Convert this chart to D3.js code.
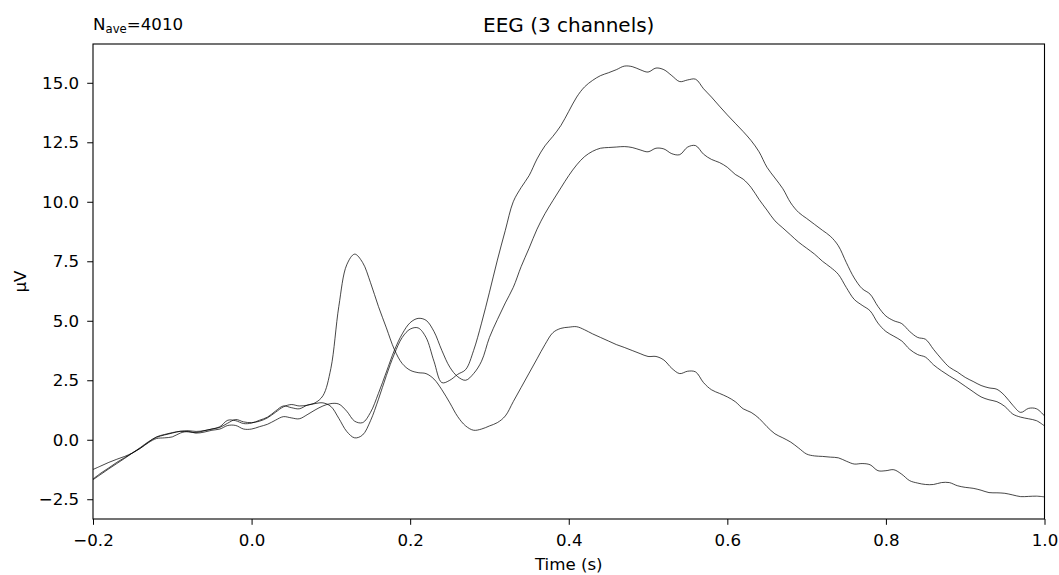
<!DOCTYPE html>
<html>
<head>
<meta charset="utf-8">
<script src="https://cdn.jsdelivr.net/npm/d3@7"></script>
<style>
  body { margin: 0; background: #fff; }
  svg text { font-family: "DejaVu Sans", sans-serif; fill: #000; }
</style>
</head>
<body>
<div id="chart"></div>
<script>
// sample times (s), one every 10 ms
const times = d3.range(121).map(i => Math.round((-0.2 + i * 0.01) * 100) / 100)

// channel values in µV
const chanA = [
  -1.68, -1.45, -1.22, -1.0, -0.78, -0.55, -0.32, -0.08, 0.1, 0.2, 0.28, 0.36, 0.38, 0.35, 0.38, 0.45,
  0.52, 0.7, 0.85, 0.75, 0.72, 0.78, 0.92, 1.15, 1.38, 1.48, 1.42, 1.45, 1.52, 1.55, 1.4,
  0.9, 0.35, 0.08, 0.2, 0.8, 1.7, 2.7, 3.6, 4.3, 4.65,
  4.7, 4.3, 3.3, 2.4, 2.5, 2.75, 2.95, 3.75, 4.9, 6.2,
  7.55, 8.8, 10.0, 10.6, 11.1, 11.8, 12.35, 12.75, 13.2, 13.8,
  14.4, 14.83, 15.1, 15.3, 15.42, 15.55, 15.7, 15.68, 15.55, 15.45,
  15.62, 15.55, 15.3, 15.05, 15.12, 15.15, 14.75, 14.4, 14.02, 13.65,
  13.3, 12.95, 12.57, 12.1, 11.45, 11.0, 10.55, 9.95, 9.55, 9.3,
  9.05, 8.8, 8.55, 8.15, 7.45, 6.8, 6.35, 6.12, 5.6, 5.2,
  5.0, 4.88, 4.55, 4.3, 4.22, 3.8, 3.4, 3.05, 2.85, 2.62,
  2.45, 2.28, 2.18, 2.12, 1.85, 1.45, 1.15, 1.32, 1.3, 1.0
]
const chanB = [
  -1.65, -1.4, -1.18, -0.95, -0.75, -0.55, -0.35, -0.12, 0.05, 0.08, 0.12, 0.28, 0.35, 0.28, 0.32, 0.4,
  0.45, 0.6, 0.6, 0.45, 0.45, 0.55, 0.65, 0.82, 0.97, 0.92, 0.88, 1.05, 1.25, 1.42, 1.52,
  1.5, 1.2, 0.78, 0.72, 1.15, 1.95, 2.85, 3.75, 4.45, 4.92,
  5.1, 5.02, 4.55, 3.75, 3.05, 2.65, 2.5, 2.78, 3.3, 4.3,
  5.05, 5.75, 6.4, 7.28, 8.05, 8.85, 9.5, 10.05, 10.58, 11.1,
  11.55, 11.9, 12.12, 12.25, 12.28, 12.3, 12.32, 12.28, 12.18, 12.1,
  12.25, 12.22, 12.02, 11.98, 12.3, 12.36, 12.0, 11.78, 11.65, 11.45,
  11.15, 10.95, 10.6, 10.1, 9.65, 9.2, 8.9, 8.6, 8.3, 8.05,
  7.8, 7.5, 7.25, 6.95, 6.4, 5.9, 5.65, 5.42, 4.9, 4.55,
  4.35, 4.15, 3.8, 3.58, 3.47, 3.15, 2.9, 2.68, 2.48, 2.25,
  2.02, 1.8, 1.68, 1.6, 1.4, 1.08, 0.95, 0.88, 0.8, 0.58
]
const chanC = [
  -1.25, -1.1, -0.95, -0.82, -0.7, -0.55, -0.35, -0.1, 0.12, 0.22, 0.3, 0.35, 0.33, 0.3, 0.38, 0.45,
  0.55, 0.82, 0.8, 0.68, 0.7, 0.82, 0.95, 1.2, 1.42, 1.35, 1.3, 1.45, 1.55, 1.85, 3.0,
  5.6, 7.35, 7.8, 7.45, 6.6, 5.6, 4.7, 3.8, 3.2, 2.92,
  2.82, 2.78, 2.55, 2.1, 1.55, 0.97, 0.58, 0.4, 0.45, 0.58,
  0.72, 1.0, 1.6, 2.2, 2.8, 3.4, 4.0, 4.5, 4.68, 4.73,
  4.75, 4.62, 4.45, 4.3, 4.15, 4.0, 3.88, 3.75, 3.62, 3.5,
  3.5, 3.35, 3.0, 2.78, 2.88, 2.85, 2.4, 2.1, 1.95, 1.8,
  1.6, 1.3, 1.15, 0.9, 0.55, 0.25, 0.08, -0.1, -0.35, -0.6,
  -0.68, -0.7, -0.73, -0.76, -0.9, -1.02, -1.0, -1.05, -1.3, -1.3,
  -1.26, -1.45, -1.72, -1.82, -1.88, -1.88, -1.8, -1.8, -1.93, -2.0,
  -2.04, -2.12, -2.22, -2.23, -2.25, -2.32, -2.39, -2.38, -2.37, -2.4
]
const channels = [chanA, chanB, chanC]

const xTicks = [-0.2, 0.0, 0.2, 0.4, 0.6, 0.8, 1.0]
const yTicks = [-2.5, 0.0, 2.5, 5.0, 7.5, 10.0, 12.5, 15.0]

const titleText = 'EEG (3 channels)'
const nave = 4010

// canvas
const width = 1059,
  height = 575,
  margin = { top: 44, right: 14.5, bottom: 56, left: 93 }

const svg = d3.select('#chart')
  .append('svg')
  .attr('width', width)
  .attr('height', height)

const x = d3.scaleLinear()
  .domain([-0.2, 1.0])
  .range([margin.left, width - margin.right])

const y = d3.scaleLinear()
  .domain([-3.33, 16.63])
  .range([height - margin.bottom, margin.top])

const fmt = d => d3.format('.1f')(d).replace('-', '\u2212')

// axes
const xAxis = svg.append('g')
  .attr('transform', `translate(0,${height - margin.bottom})`)
  .call(d3.axisBottom(x).tickValues(xTicks).tickFormat(fmt).tickSize(5.8).tickPadding(6))
const yAxis = svg.append('g')
  .attr('transform', `translate(${margin.left},0)`)
  .call(d3.axisLeft(y).tickValues(yTicks).tickFormat(fmt).tickSize(5.8).tickPadding(8))

svg.selectAll('.tick text')
  .attr('font-size', 16.67)
  .attr('fill', '#000')
xAxis.selectAll('.tick text').attr('dy', null).attr('y', 26.7)
svg.selectAll('.tick line').attr('stroke', '#000').attr('stroke-width', 1)
svg.selectAll('.domain').remove()

// frame
svg.append('rect')
  .attr('x', margin.left)
  .attr('y', margin.top)
  .attr('width', width - margin.left - margin.right)
  .attr('height', height - margin.top - margin.bottom)
  .attr('fill', 'none')
  .attr('stroke', '#000')
  .attr('stroke-width', 1.1)

// traces
const line = d3.line()
  .x((d, i) => x(times[i]))
  .y(d => y(d))
  .curve(d3.curveCatmullRom.alpha(0.5))

svg.append('g')
  .selectAll('path')
  .data(channels)
  .enter()
  .append('path')
  .attr('d', line)
  .attr('fill', 'none')
  .attr('stroke', '#000')
  .attr('stroke-opacity', 0.72)
  .attr('stroke-width', 1)

// labels
svg.append('text')
  .attr('x', (margin.left + width - margin.right) / 2)
  .attr('y', 32)
  .attr('text-anchor', 'middle')
  .attr('font-size', 20)
  .text(titleText)

const nt = svg.append('text')
  .attr('x', margin.left)
  .attr('y', 30)
  .attr('font-size', 16.67)
nt.append('tspan').text('N')
nt.append('tspan').attr('font-size', 11.7).attr('dy', 2.8).text('ave')
nt.append('tspan').attr('dy', -2.8).text('=' + nave)

svg.append('text')
  .attr('x', (margin.left + width - margin.right) / 2)
  .attr('y', 570)
  .attr('text-anchor', 'middle')
  .attr('font-size', 16.67)
  .text('Time (s)')

svg.append('text')
  .attr('transform', `translate(26,${(margin.top + height - margin.bottom) / 2}) rotate(-90)`)
  .attr('text-anchor', 'middle')
  .attr('font-size', 16.67)
  .text('µV')
</script>
</body>
</html>
